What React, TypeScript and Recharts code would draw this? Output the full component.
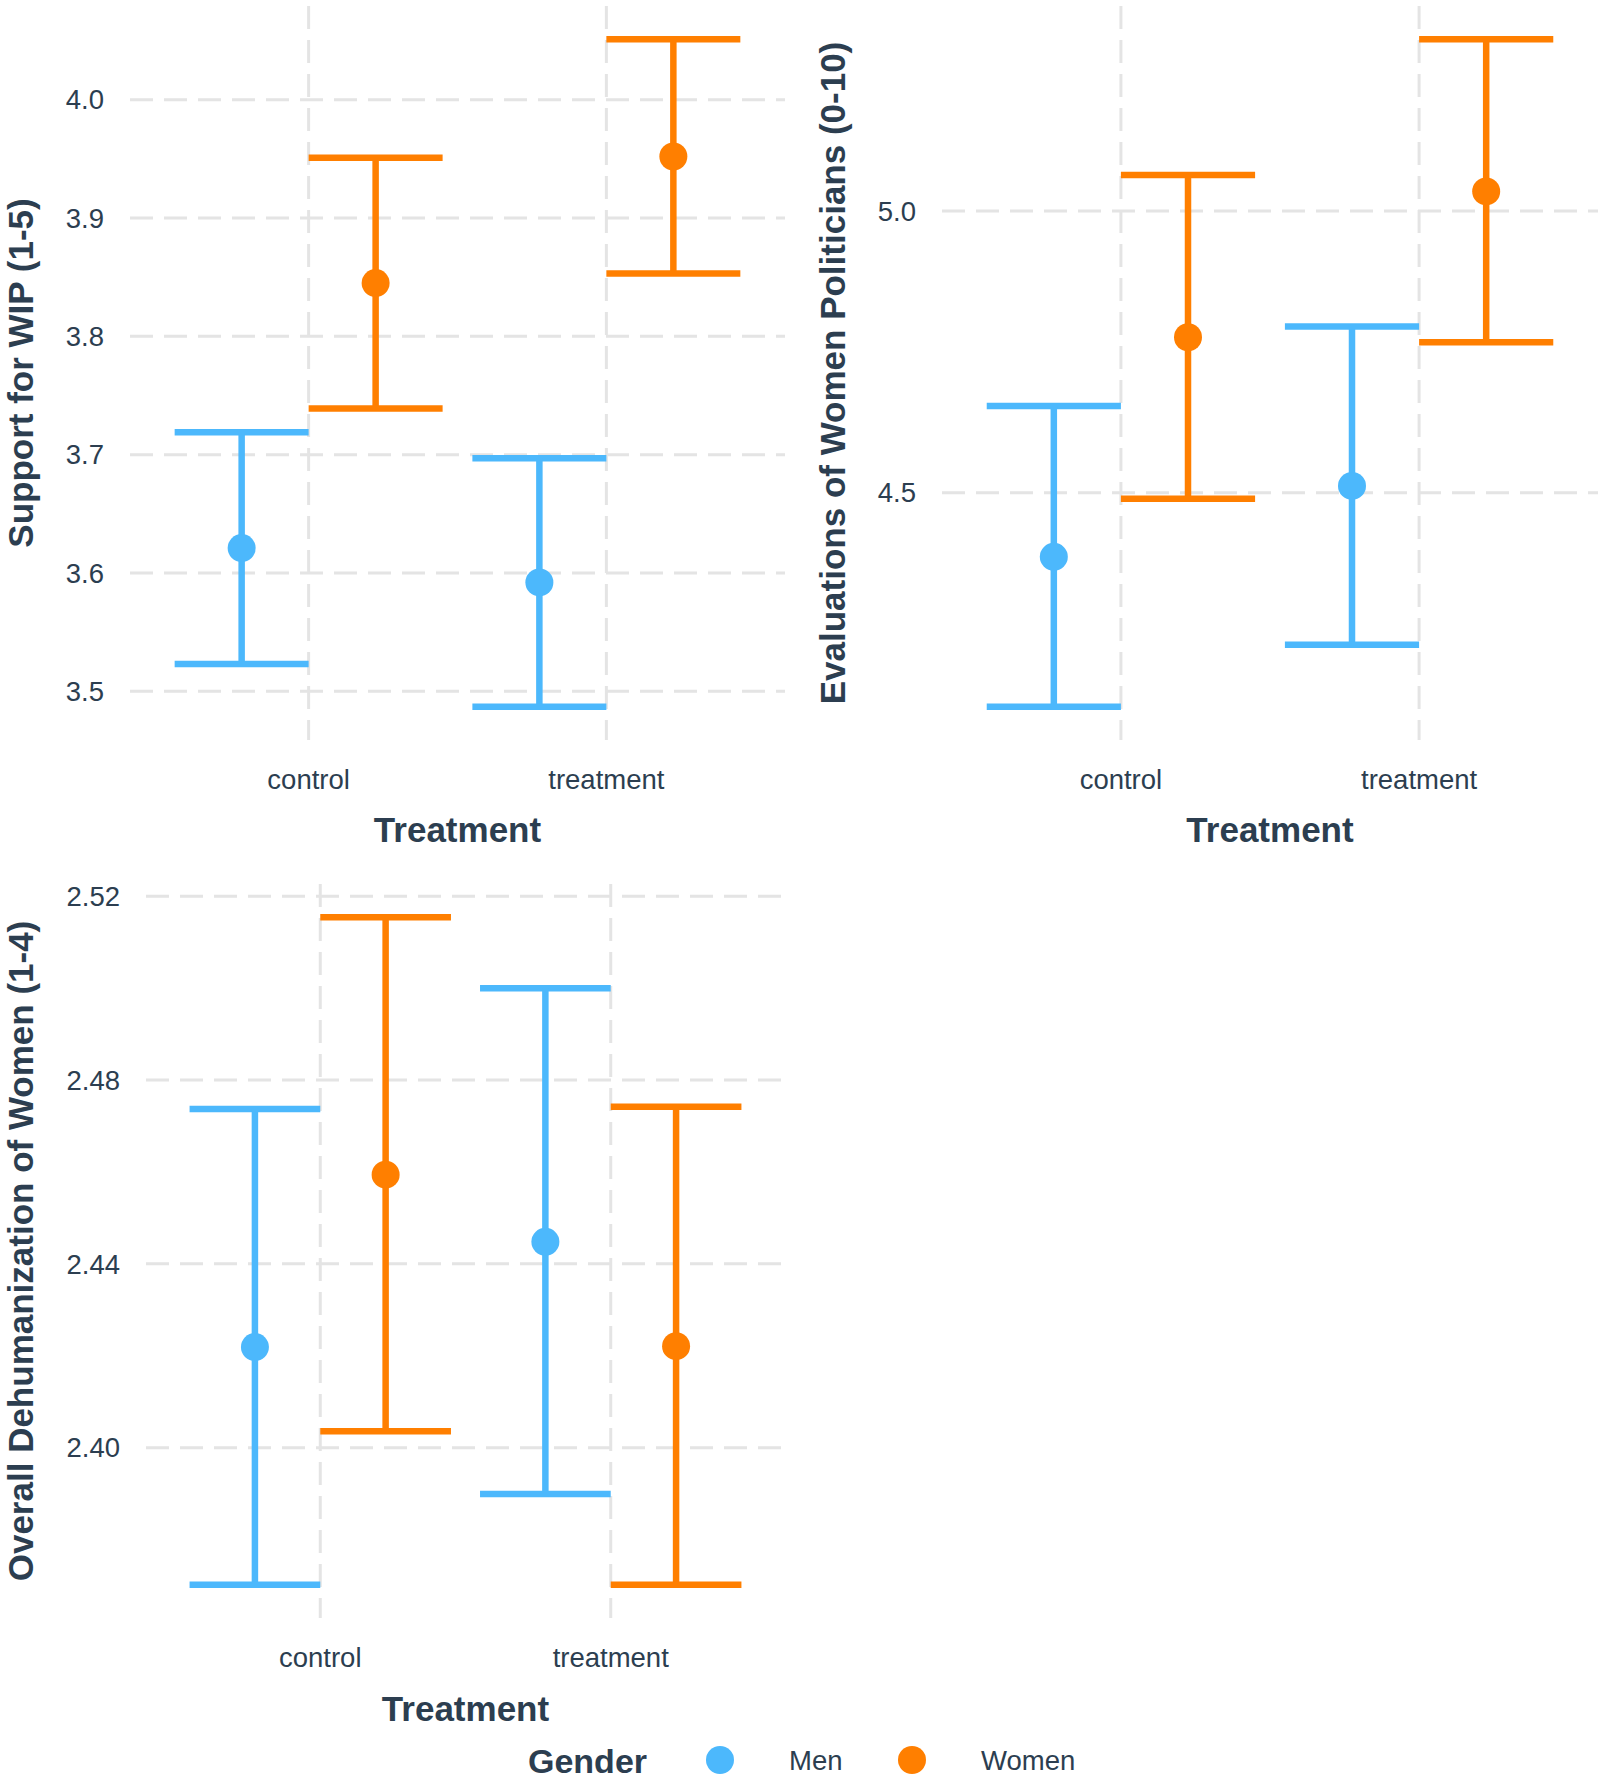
import React from 'react'
import { ScatterChart, Scatter, XAxis, YAxis, CartesianGrid, ErrorBar } from 'recharts'

const CATEGORIES = ['control', 'treatment']
const GROUPS = ['Men', 'Women']
const COLORS: Record<string, string> = { Men: '#4cb8fc', Women: '#ff7f00' }

// Support for WIP (1-5)
const WIP_MEN_MEAN = [3.621, 3.592]
const WIP_MEN_LOW = [3.523, 3.487]
const WIP_MEN_HIGH = [3.719, 3.697]
const WIP_WOMEN_MEAN = [3.845, 3.952]
const WIP_WOMEN_LOW = [3.739, 3.853]
const WIP_WOMEN_HIGH = [3.951, 4.051]
const WIP_TICKS = [3.5, 3.6, 3.7, 3.8, 3.9, 4.0]

// Evaluations of Women Politicians (0-10)
const EVAL_MEN_MEAN = [4.386, 4.512]
const EVAL_MEN_LOW = [4.12, 4.23]
const EVAL_MEN_HIGH = [4.654, 4.795]
const EVAL_WOMEN_MEAN = [4.776, 5.035]
const EVAL_WOMEN_LOW = [4.489, 4.767]
const EVAL_WOMEN_HIGH = [5.064, 5.305]
const EVAL_TICKS = [4.5, 5.0]

// Overall Dehumanization of Women (1-4)
const DEHUM_MEN_MEAN = [2.4219, 2.4448]
const DEHUM_MEN_LOW = [2.3702, 2.3899]
const DEHUM_MEN_HIGH = [2.4737, 2.5]
const DEHUM_WOMEN_MEAN = [2.4594, 2.4221]
const DEHUM_WOMEN_LOW = [2.4036, 2.3702]
const DEHUM_WOMEN_HIGH = [2.5154, 2.4742]
const DEHUM_TICKS = [2.4, 2.44, 2.48, 2.52]

const DODGE = 0.225
const X_DOMAIN: [number, number] = [0.4, 2.6]
const TEXT = '#2c3e50'
const GRID = '#e4e4e4'
const FONT = '"Liberation Sans", Arial, Helvetica, sans-serif'

const toPoints = (mean: number[], low: number[], high: number[], shift: number) =>
  mean.map((m, i) => ({ x: i + 1 + shift, y: m, err: [m - low[i], high[i] - m] }))

// ggplot-style 5% expansion of the data range
const expand = (lows: number[], highs: number[]): [number, number] => {
  const lo = Math.min(...lows)
  const hi = Math.max(...highs)
  const pad = (hi - lo) * 0.05
  return [lo - pad, hi + pad]
}

interface PanelProps {
  left: number
  top: number
  width: number
  height: number
  margin: { top: number; right: number; bottom: number; left: number }
  yAxisWidth: number
  xAxisHeight: number
  titleX: number
  xTitleOffset: number
  yTitle: string
  ticks: number[]
  decimals: number
  men: { x: number; y: number; err: number[] }[]
  women: { x: number; y: number; err: number[] }[]
  domain: [number, number]
}

function Panel(p: PanelProps) {
  const plotW = p.width - p.margin.left - p.margin.right - p.yAxisWidth
  const plotH = p.height - p.margin.top - p.margin.bottom - p.xAxisHeight
  const capHalf = (DODGE * plotW) / (X_DOMAIN[1] - X_DOMAIN[0])
  const cy = p.margin.top + plotH / 2

  const renderYTitle = () => (
    <text
      x={p.titleX}
      y={cy}
      transform={`rotate(-90 ${p.titleX} ${cy})`}
      textAnchor="middle"
      fill={TEXT}
      fontSize={35}
      fontWeight={700}
    >
      {p.yTitle}
    </text>
  )

  const dot = (color: string) => (props: any) => (
    <circle cx={props.cx} cy={props.cy} r={14} fill={color} />
  )

  return (
    <div style={{ position: 'absolute', left: p.left, top: p.top }}>
      <ScatterChart width={p.width} height={p.height} margin={p.margin}>
        <CartesianGrid stroke={GRID} strokeWidth={3} strokeDasharray="23 11" syncWithTicks />
        <XAxis
          type="number"
          dataKey="x"
          domain={X_DOMAIN}
          ticks={[1, 2]}
          interval={0}
          allowDataOverflow
          height={p.xAxisHeight}
          axisLine={false}
          tickLine={false}
          tickSize={0}
          tickMargin={29.5}
          tick={{ fill: TEXT, fontSize: 27.5 }}
          tickFormatter={(v: number) => CATEGORIES[Math.round(v) - 1] ?? ''}
          label={{
            value: 'Treatment',
            position: 'insideBottom',
            offset: p.xTitleOffset,
            fill: TEXT,
            fontSize: 35,
            fontWeight: 700,
          }}
        />
        <YAxis
          type="number"
          dataKey="y"
          domain={p.domain}
          ticks={p.ticks}
          interval={0}
          allowDataOverflow
          width={p.yAxisWidth}
          axisLine={false}
          tickLine={false}
          tickSize={0}
          tickMargin={26}
          tick={{ fill: TEXT, fontSize: 27.5 }}
          tickFormatter={(v: number) => v.toFixed(p.decimals)}
          label={renderYTitle}
        />
        <Scatter name="Men" data={p.men} fill={COLORS.Men} shape={dot(COLORS.Men)} isAnimationActive={false}>
          <ErrorBar
            dataKey="err"
            direction="y"
            width={capHalf}
            stroke={COLORS.Men}
            strokeWidth={6.5}
            isAnimationActive={false}
          />
        </Scatter>
        <Scatter name="Women" data={p.women} fill={COLORS.Women} shape={dot(COLORS.Women)} isAnimationActive={false}>
          <ErrorBar
            dataKey="err"
            direction="y"
            width={capHalf}
            stroke={COLORS.Women}
            strokeWidth={6.5}
            isAnimationActive={false}
          />
        </Scatter>
      </ScatterChart>
    </div>
  )
}

function GenderLegend() {
  const itemX = [720, 912]
  return (
    <svg
      width={1604}
      height={62}
      style={{ position: 'absolute', left: 0, top: 1720 }}
    >
      <text x={528} y={53} fill={TEXT} fontSize={34} fontWeight={700}>
        Gender
      </text>
      {GROUPS.map((g, i) => (
        <g key={g}>
          <circle cx={itemX[i]} cy={40} r={14} fill={COLORS[g]} />
          <text x={itemX[i] + 69} y={50} fill={TEXT} fontSize={27.5}>
            {g}
          </text>
        </g>
      ))}
    </svg>
  )
}

export default function App() {
  return (
    <div
      style={{
        position: 'absolute',
        left: 0,
        top: 0,
        width: 1604,
        height: 1782,
        background: '#ffffff',
        fontFamily: FONT,
      }}
    >
      <Panel
        left={0}
        top={0}
        width={800}
        height={860}
        margin={{ top: 6, right: 15, bottom: 10, left: 0 }}
        yAxisWidth={130}
        xAxisHeight={110}
        titleX={33}
        xTitleOffset={8}
        yTitle="Support for WIP (1-5)"
        ticks={WIP_TICKS}
        decimals={1}
        men={toPoints(WIP_MEN_MEAN, WIP_MEN_LOW, WIP_MEN_HIGH, -DODGE)}
        women={toPoints(WIP_WOMEN_MEAN, WIP_WOMEN_LOW, WIP_WOMEN_HIGH, DODGE)}
        domain={expand([...WIP_MEN_LOW, ...WIP_WOMEN_LOW], [...WIP_MEN_HIGH, ...WIP_WOMEN_HIGH])}
      />
      <Panel
        left={800}
        top={0}
        width={804}
        height={860}
        margin={{ top: 6, right: 6, bottom: 10, left: 0 }}
        yAxisWidth={142}
        xAxisHeight={110}
        titleX={45}
        xTitleOffset={8}
        yTitle="Evaluations of Women Politicians (0-10)"
        ticks={EVAL_TICKS}
        decimals={1}
        men={toPoints(EVAL_MEN_MEAN, EVAL_MEN_LOW, EVAL_MEN_HIGH, -DODGE)}
        women={toPoints(EVAL_WOMEN_MEAN, EVAL_WOMEN_LOW, EVAL_WOMEN_HIGH, DODGE)}
        domain={expand([...EVAL_MEN_LOW, ...EVAL_WOMEN_LOW], [...EVAL_MEN_HIGH, ...EVAL_WOMEN_HIGH])}
      />
      <Panel
        left={0}
        top={860}
        width={800}
        height={922}
        margin={{ top: 24, right: 15, bottom: 54, left: 0 }}
        yAxisWidth={146}
        xAxisHeight={110}
        titleX={33}
        xTitleOffset={7}
        yTitle="Overall Dehumanization of Women (1-4)"
        ticks={DEHUM_TICKS}
        decimals={2}
        men={toPoints(DEHUM_MEN_MEAN, DEHUM_MEN_LOW, DEHUM_MEN_HIGH, -DODGE)}
        women={toPoints(DEHUM_WOMEN_MEAN, DEHUM_WOMEN_LOW, DEHUM_WOMEN_HIGH, DODGE)}
        domain={expand([...DEHUM_MEN_LOW, ...DEHUM_WOMEN_LOW], [...DEHUM_MEN_HIGH, ...DEHUM_WOMEN_HIGH])}
      />
      <GenderLegend />
    </div>
  )
}
